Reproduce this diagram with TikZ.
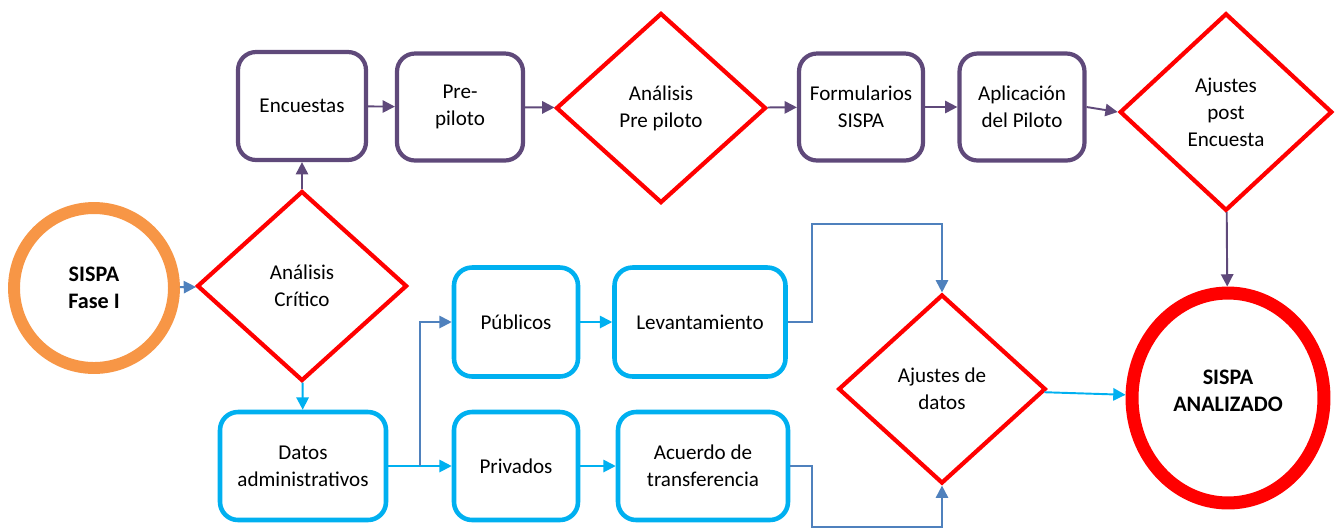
\documentclass[tikz,border=0pt]{standalone}
\usepackage{fontspec}
\setmainfont{Carlito}
\usepackage{xcolor}
\usetikzlibrary{shapes.geometric}
\usetikzlibrary{arrows.meta}

\definecolor{morado}{HTML}{5F497A}
\definecolor{celeste}{HTML}{00B0F0}
\definecolor{acero}{HTML}{4F81BD}
\definecolor{naranja}{HTML}{F79646}

\tikzset{
	txt/.style={font=\fontsize{12}{15.3}\selectfont, align=center, inner sep=0pt},
	negrita/.style={font=\fontsize{12.6}{15.3}\selectfont\bfseries},
	pbox/.style={txt, draw=morado, line width=2.4pt, rounded corners=0.36cm, minimum width=2.52cm, minimum height=2.14cm},
	cbox/.style={txt, draw=celeste, line width=2.6pt, rounded corners=0.36cm, minimum width=2.48cm, minimum height=2.18cm},
	decision/.style={txt, diamond, draw=red, line width=2.4pt, minimum width=4.2cm, minimum height=3.8cm},
	flecha/.style={-{Triangle[length=7pt,width=7pt]}, line width=1.1pt},
}

\begin{document}
\begin{tikzpicture}[x=0.02cm, y=-0.02cm]
			\useasboundingbox (0,0) rectangle (1336,529);
			% fila superior
			\node[txt, negrita, circle, draw=naranja, line width=6.8pt, minimum size=3.2cm] (A) at (94,288){SISPA\\Fase I};
			\node[decision] (B) at (302,286){Análisis\\Crítico};
			\node[pbox, minimum width=2.56cm, minimum height=2.16cm] (C) at (302,106){Encuestas};
			\node[pbox] (D) at (460,107){Pre-\\piloto};
			\node[decision] (E) at (661,108){Análisis\\Pre piloto};
			\node[pbox, minimum width=2.48cm] (F) at (861,107){Formularios\\SISPA};
			\node[pbox, minimum width=2.5cm] (G) at (1022,107){Aplicación\\del Piloto};
			\node[decision, minimum width=4.25cm, minimum height=3.95cm] (H) at (1226,112){Ajustes\\post\\Encuesta};
			% fila inferior
			\node[cbox, minimum width=3.32cm, minimum height=2.16cm] (I) at (303,466){Datos\\administrativos};
			\node[cbox] (J) at (516,322){Públicos};
			\node[cbox, minimum width=3.42cm] (K) at (700,322){Levantamiento};
			\node[cbox, minimum height=2.16cm] (L) at (516,466){Privados};
			\node[cbox, minimum width=3.4cm, minimum height=2.16cm] (M) at (703,466){Acuerdo de\\transferencia};
			\node[decision, minimum width=4.15cm, minimum height=3.78cm] (N) at (942,389){Ajustes de\\datos};
			\node[txt, negrita, ellipse, draw=red, line width=7.4pt, minimum width=3.84cm, minimum height=4.2cm, text depth=0.3cm] (O) at (1228,398){SISPA\\ANALIZADO};
			\coordinate (p) at (420,466);
			\coordinate (q) at (812,224);
			\coordinate (r) at (812,527);
			% conectores
			\draw[flecha, acero] (A) -- (B);
			\draw[flecha, morado] (B) -- (C);
			\draw[flecha, morado] (C) -- (D);
			\draw[flecha, morado] (D) -- (E);
			\draw[flecha, morado] (E) -- (F);
			\draw[flecha, morado] (F) -- (G);
			\draw[flecha, morado] (G.east) -- (H.west);
			\draw[flecha, morado] (H) -- (O);
			\draw[flecha, celeste] (B) -- (I);
			\draw[flecha, celeste] (I) -- (L);
			\draw[flecha, acero] (p) |- (J.west);
			\draw[flecha, celeste] (J) -- (K);
			\draw[flecha, celeste] (L) -- (M);
			\draw[flecha, acero] (K.east) -| (q) -| (N.north);
			\draw[flecha, acero] (M.east) -| (r) -| (N.south);
			\draw[flecha, celeste] (N) -- (O);
		\end{tikzpicture}
\end{document}
